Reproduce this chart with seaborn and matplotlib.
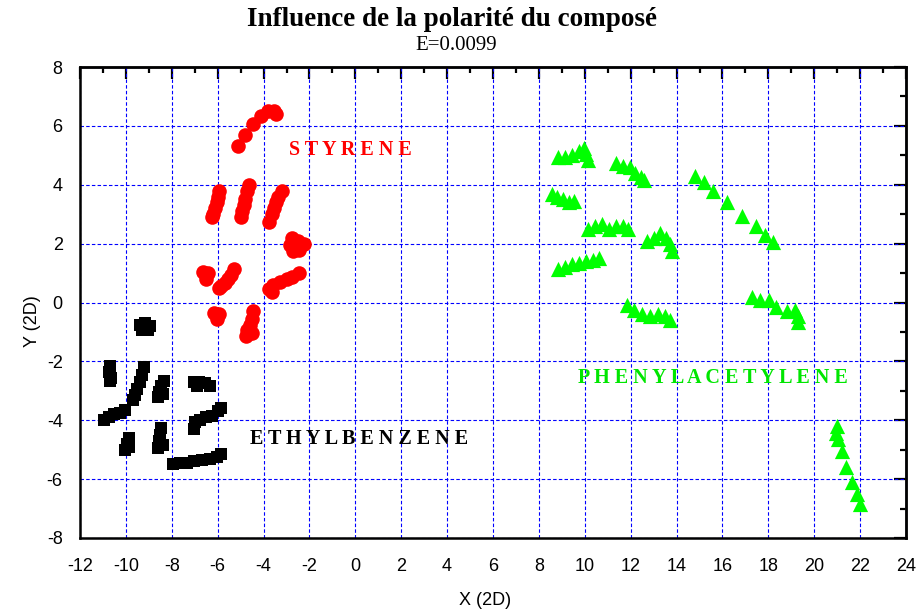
import matplotlib
matplotlib.use("Agg")
import matplotlib.pyplot as plt
import numpy as np
import pandas as pd
import seaborn as sns

# --- data: 2D projection coordinates for each compound ---
styrene_x = [-5.1, -4.8, -4.45, -4.1, -3.8, -3.55, -3.45,
             -5.95, -6.0, -6.05, -6.1, -6.2, -6.25,
             -4.65, -4.7, -4.8, -4.85, -4.95, -5.0,
             -3.2, -3.35, -3.45, -3.55, -3.65, -3.75,
             -2.75, -2.5, -2.25, -2.45, -2.7, -2.85,
             -6.65, -6.4, -6.5,
             -5.3, -5.4, -5.55, -5.7, -5.85, -5.95,
             -3.75, -3.6, -3.3, -3.0, -2.75, -2.45, -3.65,
             -6.15, -5.95, -6.05,
             -4.45, -4.5, -4.6, -4.7, -4.75, -4.5]
styrene_y = [5.3, 5.7, 6.05, 6.35, 6.5, 6.5, 6.4,
             3.8, 3.6, 3.4, 3.2, 3.0, 2.9,
             4.0, 3.8, 3.5, 3.3, 3.1, 2.9,
             3.8, 3.6, 3.4, 3.2, 3.0, 2.75,
             2.2, 2.1, 2.0, 1.8, 1.75, 1.95,
             1.05, 1.0, 0.8,
             1.15, 0.95, 0.8, 0.65, 0.55, 0.5,
             0.45, 0.6, 0.7, 0.8, 0.85, 1.0, 0.35,
             -0.35, -0.4, -0.55,
             -0.3, -0.55, -0.75, -0.95, -1.15, -1.05]

ethyl_x = [-9.4, -9.15, -8.95, -9.3, -9.05,
           -10.7, -10.75, -10.65, -10.7,
           -9.2, -9.3, -9.4, -9.5, -9.6, -9.7,
           -8.35, -8.45, -8.55, -8.6, -8.4,
           -7.05, -6.8, -6.55, -6.35, -6.9,
           -10.95, -10.75, -10.5, -10.25, -10.05,
           -7.05, -7.0, -6.75, -6.5, -6.25, -6.0, -5.85,
           -9.85, -9.95, -10.05, -9.85,
           -8.45, -8.5, -8.55, -8.6, -8.4,
           -7.95, -7.65, -7.35, -7.05, -6.7, -6.35, -6.05, -5.85]
ethyl_y = [-0.75, -0.7, -0.8, -0.95, -0.95,
           -2.15, -2.35, -2.55, -2.65,
           -2.2, -2.45, -2.7, -2.95, -3.15, -3.3,
           -2.65, -2.85, -3.05, -3.2, -3.1,
           -2.7, -2.7, -2.75, -2.85, -2.85,
           -4.0, -3.9, -3.8, -3.75, -3.65,
           -4.3, -4.05, -4.0, -3.9, -3.85, -3.7, -3.6,
           -4.6, -4.8, -5.0, -4.9,
           -4.25, -4.5, -4.7, -4.95, -4.85,
           -5.5, -5.45, -5.45, -5.4, -5.35, -5.3, -5.25, -5.15]

phenyl_x = [8.85, 9.15, 9.45, 9.75, 9.95, 10.05, 10.15,
            11.35, 11.65, 11.95, 12.2, 12.45, 12.6,
            8.55, 8.8, 9.05, 9.3, 9.55,
            10.15, 10.45, 10.75, 11.05, 11.35, 11.65, 11.9,
            12.7, 13.0, 13.3, 13.55, 13.7, 13.8,
            8.85, 9.15, 9.45, 9.75, 10.05, 10.35, 10.6,
            14.8, 15.2, 15.6, 16.2, 16.85, 17.45, 17.85, 18.2,
            17.3, 17.65, 18.05, 18.35, 18.8, 19.15, 19.3, 19.3,
            11.85, 12.15, 12.5, 12.85, 13.2, 13.5, 13.7,
            21.0, 20.95, 21.05, 21.2, 21.4, 21.65, 21.85, 22.0]
phenyl_y = [4.95, 4.95, 5.0, 5.15, 5.25, 5.05, 4.85,
            4.75, 4.65, 4.6, 4.4, 4.25, 4.15,
            3.7, 3.6, 3.5, 3.4, 3.45,
            2.5, 2.6, 2.65, 2.5, 2.6, 2.6, 2.5,
            2.1, 2.2, 2.35, 2.2, 2.0, 1.75,
            1.15, 1.2, 1.3, 1.35, 1.4, 1.45, 1.5,
            4.3, 4.1, 3.8, 3.4, 2.95, 2.6, 2.3, 2.05,
            0.2, 0.1, 0.1, -0.15, -0.3, -0.25, -0.45, -0.65,
            -0.1, -0.25, -0.4, -0.45, -0.4, -0.45, -0.6,
            -4.2, -4.45, -4.65, -5.05, -5.6, -6.1, -6.5, -6.85]

x_ticks = list(range(-12, 25, 2))
y_ticks = list(range(-8, 9, 2))

title = "Influence de la polarité du composé"
subtitle = "E=0.0099"

df = pd.concat([
    pd.DataFrame({"x": styrene_x, "y": styrene_y, "compose": "STYRENE"}),
    pd.DataFrame({"x": ethyl_x, "y": ethyl_y, "compose": "ETHYLBENZENE"}),
    pd.DataFrame({"x": phenyl_x, "y": phenyl_y, "compose": "PHENYLACETYLENE"}),
], ignore_index=True)

sns.set_style("white")
plt.rcParams["font.family"] = ["Liberation Sans", "DejaVu Sans"]
plt.rcParams["lines.scale_dashes"] = False
plt.rcParams["axes.unicode_minus"] = False
for key in ("text.color", "axes.labelcolor", "xtick.color", "ytick.color"):
    plt.rcParams[key] = "black"

fig = plt.figure(figsize=(9.19, 6.15), dpi=100)
ax = fig.add_axes([80 / 919, 1 - 538 / 615, 826 / 919, 471 / 615])

styles = {
    "STYRENE": dict(color="#ff0000", marker="o", s=110),
    "ETHYLBENZENE": dict(color="#000000", marker="s", s=75),
    "PHENYLACETYLENE": dict(color="#00ff00", marker="^", s=120),
}
for name, st in styles.items():
    sns.scatterplot(data=df[df["compose"] == name], x="x", y="y", ax=ax,
                    color=st["color"], marker=st["marker"], s=st["s"],
                    linewidth=0, legend=False, zorder=3)

ax.set_xlim(-12, 24)
ax.set_ylim(-8, 8)
ax.set_xticks(x_ticks)
ax.set_yticks(y_ticks)
ax.set_xticks(np.arange(-11, 24, 2), minor=True)
ax.set_yticks(np.arange(-7, 8, 2), minor=True)
ax.grid(True, which="major", color="#0000ff", linestyle=(0, (2.5, 1.6)),
        linewidth=0.8, zorder=1)
ax.set_axisbelow(True)

for sp in ax.spines.values():
    sp.set_visible(True)
    sp.set_color("black")
    sp.set_linewidth(1.8)

ax.tick_params(which="major", direction="out", length=8.5, width=1.6,
               labelsize=13, pad=4)
ax.tick_params(which="minor", direction="out", length=4.5, width=1.6)
ax.tick_params(axis="x", which="major", pad=6)

# mirrored ticks on the top and right frames, pointing into the plot
top = ax.secondary_xaxis("top")
top.set_xticks(x_ticks)
top.set_xticks(np.arange(-11, 24, 2), minor=True)
top.tick_params(which="major", direction="in", length=8.5, width=1.6, labeltop=False)
top.tick_params(which="minor", direction="in", length=4.5, width=1.6)
top.spines["top"].set_linewidth(1.8)
right = ax.secondary_yaxis("right")
right.set_yticks(y_ticks)
right.set_yticks(np.arange(-7, 8, 2), minor=True)
right.tick_params(which="major", direction="in", length=8.5, width=1.6, labelright=False)
right.tick_params(which="minor", direction="in", length=4.5, width=1.6)
right.spines["right"].set_linewidth(1.8)

ax.set_xlabel("X (2D)", fontsize=13)
ax.set_ylabel("Y (2D)", fontsize=13)
ax.xaxis.set_label_coords(0.49, -0.115)
ax.yaxis.set_label_coords(-0.047, 0.46)

serif = ["Liberation Serif", "DejaVu Serif"]
ax.text(-2.9, 5.18, " ".join("STYRENE"), color="#ff0000", fontsize=14.5,
        fontweight="bold", family=serif, va="center", ha="left")
ax.text(-4.6, -4.64, " ".join("ETHYLBENZENE"), color="#000000", fontsize=14.5,
        fontweight="bold", family=serif, va="center", ha="left")
ax.text(9.7, -2.57, " ".join("PHENYLACETYLENE"), color="#00e600",
        fontsize=14.5, fontweight="bold", family=serif, va="center", ha="left")

fig.text(452 / 919, 1 - 20 / 615, title, ha="center", va="center",
         fontsize=19.5, fontweight="bold", family=serif)
fig.text(456 / 919, 1 - 46 / 615, subtitle, ha="center", va="center",
         fontsize=15, family=serif)

fig.savefig("out.png", dpi=100, facecolor="white")
